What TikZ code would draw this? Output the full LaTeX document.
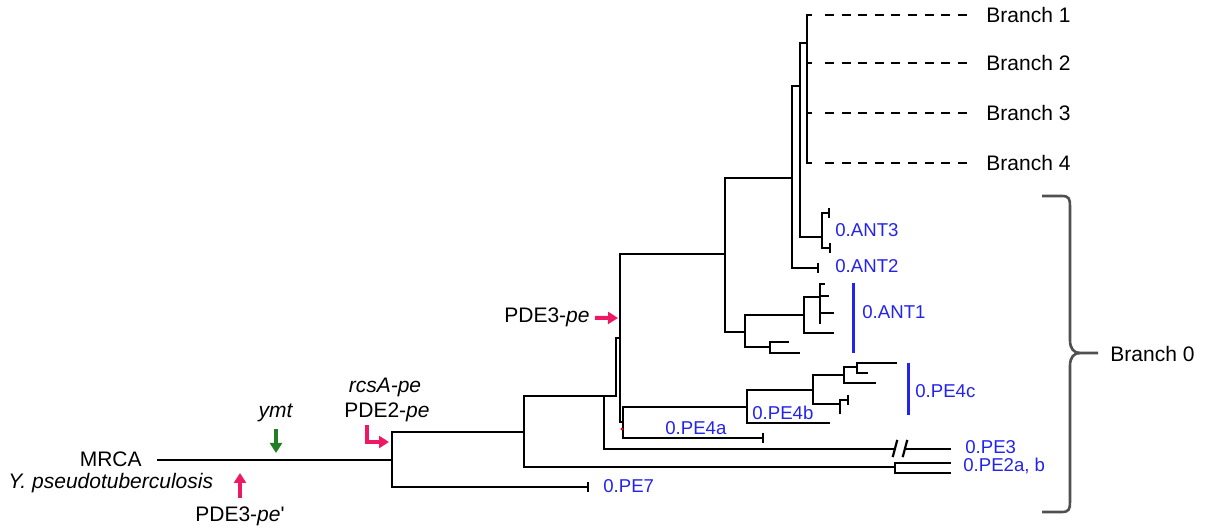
\documentclass[tikz,border=0pt]{standalone}
\usepackage{fontspec}
\setmainfont{Liberation Sans}
\usetikzlibrary{arrows.meta}

\definecolor{cladeblue}{RGB}{35,35,235}
\definecolor{hitpink}{RGB}{238,25,100}
\definecolor{ymtgreen}{RGB}{35,125,35}
\definecolor{bracegray}{RGB}{80,80,80}

\tikzset{
  br/.style={line width=1.1pt, line cap=rect},
  tipbar/.style={line width=1.1pt},
  lab/.style={font=\fontsize{10.5}{12.6}\selectfont, inner sep=0pt},
  clade/.style={font=\fontsize{9.3}{11}\selectfont, text=cladeblue, inner sep=0pt, anchor=base west},
  cladebar/.style={cladeblue, line width=1.5pt},
  hit/.style={hitpink, line width=2pt, -{Triangle[length=5pt,width=6pt]}},
  gain/.style={ymtgreen, line width=2pt, -{Triangle[length=5pt,width=6pt]}},
  branchdash/.style={line width=1.1pt, dash pattern=on 4.5pt off 3.8pt}
}

\begin{document}
\begin{tikzpicture}[x=0.5pt,y=-0.5pt]
  \useasboundingbox (0,0) rectangle (1207,529);

  \coordinate (r0) at (158,460);
  \coordinate (R) at (392,460);
  \coordinate (n1) at (524,432);
  \coordinate (n2) at (604,396);
  \coordinate (n3) at (895,467);
  \coordinate (n4) at (616,396);
  \coordinate (n5) at (620,338);
  \coordinate (n6) at (725,254);
  \coordinate (n7) at (623,422);
  \coordinate (n8) at (792,178);
  \coordinate (n9) at (745,332);
  \coordinate (n10) at (804,315);
  \coordinate (n11) at (820,297);
  \coordinate (n12) at (770,347);
  \coordinate (n13) at (800,86);
  \coordinate (n14) at (807,43);
  \coordinate (n15) at (822,237);
  \coordinate (n16) at (747,407);
  \coordinate (n17) at (813,390);
  \coordinate (n18) at (844,375);
  \coordinate (n19) at (840,404);
  \coordinate (n20) at (857,367);

  \coordinate (pe7) at (588,487);
  \coordinate (pe2a) at (950,463);
  \coordinate (pe2b) at (950,473);
  \coordinate (brkL) at (895,449);
  \coordinate (brkR) at (905,449);
  \coordinate (pe3) at (950,449);
  \coordinate (pe4a) at (763,438);
  \coordinate (pe4bt) at (829,423);
  \coordinate (c1) at (896,363);
  \coordinate (c2) at (867,373);
  \coordinate (c3) at (875,383);
  \coordinate (c4) at (848,400);
  \coordinate (c5) at (840,413);
  \coordinate (ant2) at (818,268);
  \coordinate (a3a) at (829,213);
  \coordinate (a3b) at (830,248);
  \coordinate (a1a) at (824,284);
  \coordinate (a1b) at (828,296);
  \coordinate (a1c) at (833,313);
  \coordinate (a1d) at (820,323);
  \coordinate (a1e) at (833,333);
  \coordinate (a1f) at (788,342);
  \coordinate (a1g) at (799,353);

  \draw[br] (r0) -- (R);
  \foreach \p/\c in {R/n1,R/pe7,n1/n2,n1/n3,n3/pe2a,n3/pe2b,n2/n4,n4/n5,n5/n6,n5/n7,
      n6/n8,n6/n9,n8/n13,n8/ant2,n13/n14,n13/n15,n15/a3a,n15/a3b,
      n9/n10,n9/n12,n10/n11,n10/a1e,n11/a1a,n11/a1b,n11/a1c,n11/a1d,n12/a1f,n12/a1g,
      n7/n16,n7/pe4a,n16/n17,n16/pe4bt,n17/n18,n17/n19,n18/n20,n18/c3,n20/c1,n20/c2,n19/c4,n19/c5}
    \draw[br] (\p) |- (\c);

  \draw[br] (n2) |- (brkL);
  \draw[br] (brkR) -- (pe3);
  \draw[br] (brkL) ++(-2,7) -- ++(4,-15);
  \draw[br] (brkR) ++(-2,7) -- ++(4,-15);

  \foreach \t in {pe7,pe4a,ant2,a3a,a3b,c4}
    \draw[tipbar] (\t) ++(0,-5) -- ++(0,10);

  \foreach \i/\y in {1/15,2/63,3/113,4/163} {
    \coordinate (bs\i) at (811,\y);
    \coordinate (bd\i) at (825,\y);
    \coordinate (bt\i) at (968,\y);
    \draw[br] (n14) |- (bs\i);
    \draw[branchdash] (bd\i) -- (bt\i);
    \node[lab, anchor=west] (branch\i) at (986,\y) {Branch \i};
  }

  \fill[red] (622,429) circle[radius=0.8pt];

  \coordinate (ant1top) at (853,283);
  \coordinate (ant1bot) at (853,353);
  \draw[cladebar] (ant1top) -- (ant1bot);
  \coordinate (pe4ctop) at (908,363);
  \coordinate (pe4cbot) at (908,415);
  \draw[cladebar] (pe4ctop) -- (pe4cbot);

  \node[clade] (lANT3) at (835,237) {0.ANT3};
  \node[clade] (lANT2) at (835,273) {0.ANT2};
  \node[clade] (lANT1) at (862,319) {0.ANT1};
  \node[clade] (lPE4c) at (915,398) {0.PE4c};
  \node[clade] (lPE4b) at (752,420) {0.PE4b};
  \node[clade] (lPE4a) at (665,435) {0.PE4a};
  \node[clade] (lPE3) at (965,454) {0.PE3};
  \node[clade] (lPE2) at (963,472) {0.PE2a, b};
  \node[clade] (lPE7) at (603,493) {0.PE7};

  \node[lab, anchor=base east] (mrca) at (142,467) {MRCA};
  \node[lab, anchor=base west] (ypt) at (8,489) {\textit{Y. pseudotuberculosis}};
  \node[lab, anchor=base] (ymt) at (276,418) {\textit{ymt}};
  \node[lab, anchor=base] (pdeprime) at (240,522) {PDE3-\textit{pe}\textquotesingle};
  \node[lab, anchor=base] (rcsA) at (385,393) {\textit{rcsA-pe}};
  \node[lab, anchor=base] (pdetwo) at (387,418) {PDE2-\textit{pe}};
  \node[lab, anchor=base east] (pdethree) at (590,323) {PDE3-\textit{pe}};
  \node[lab, anchor=base west] (branch0) at (1110,362) {Branch 0};

  \coordinate (ymt-tip) at (276,453);
  \draw[gain, shorten <=3pt] (ymt) -- (ymt-tip);
  \coordinate (pdeprime-tip) at (240,473);
  \draw[hit, shorten <=4.5pt] (pdeprime) -- (pdeprime-tip);
  \coordinate (elb-s) at (367,425);
  \coordinate (elb-t) at (389,442);
  \draw[hit] (elb-s) |- (elb-t);
  \coordinate (pdethree-tip) at (618,318);
  \draw[hit, shorten <=2.5pt] (pdethree.east) -- (pdethree-tip);

  \draw[bracegray, line width=1.3pt]
    (1042,196) -- (1062,196) .. controls (1069,196) and (1070,199) .. (1070,206)
    -- (1070,340) .. controls (1070,349) and (1074,353) .. (1080,353) -- (1098,353);
  \draw[bracegray, line width=1.3pt]
    (1042,512) -- (1062,512) .. controls (1069,512) and (1070,509) .. (1070,502)
    -- (1070,366) .. controls (1070,357) and (1074,353) .. (1080,353);
\end{tikzpicture}
\end{document}
